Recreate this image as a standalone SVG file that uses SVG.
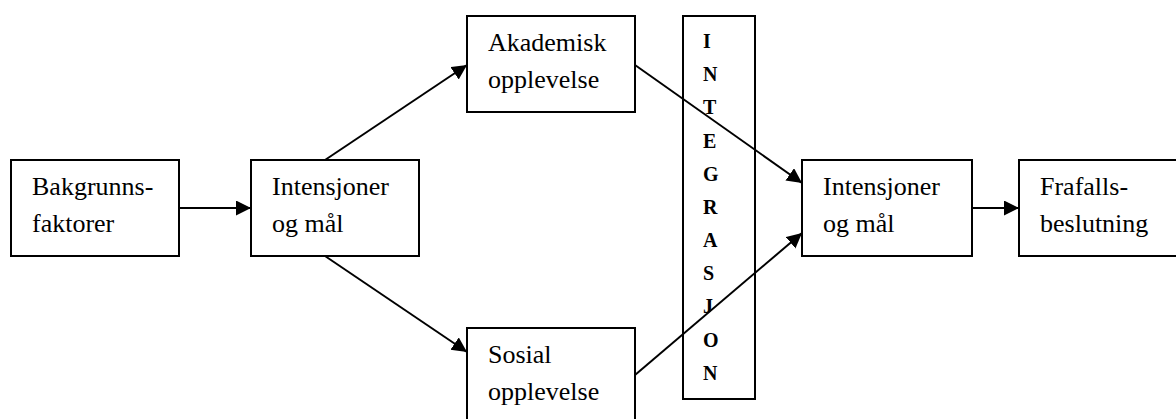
<svg xmlns="http://www.w3.org/2000/svg" width="1176" height="419" viewBox="0 0 1176 419">
<style>
.box{fill:#fff;stroke:#000;stroke-width:2}
.c{stroke:#000;stroke-width:2;fill:none;marker-end:url(#ah)}
</style>
<defs>
<marker id="ah" markerUnits="userSpaceOnUse" markerWidth="16" markerHeight="16" refX="15" refY="7.5" orient="auto">
<path d="M0,0 L15,7.5 L0,15 z" fill="#000"/>
</marker>
</defs>
<rect width="1176" height="419" fill="#fff"/>
<g font-family="Liberation Serif" font-size="26" fill="#000">
<g id="bakgrunn"><rect class="box" x="11" y="160" width="168" height="96"/><text x="32" y="195">Bakgrunns-</text><text x="32" y="232">faktorer</text></g>
<g id="intensjoner1"><rect class="box" x="251" y="160" width="168" height="96"/><text x="272" y="195">Intensjoner</text><text x="272" y="232">og mål</text></g>
<g id="akademisk"><rect class="box" x="467" y="16" width="168" height="96"/><text x="488" y="51">Akademisk</text><text x="488" y="88">opplevelse</text></g>
<g id="sosial"><rect class="box" x="467" y="328" width="168" height="96"/><text x="488" y="363">Sosial</text><text x="488" y="400">opplevelse</text></g>
<g id="integrasjon" font-size="20" font-weight="bold"><rect class="box" x="683" y="16" width="72" height="383"/>
<text x="703" y="48">I</text><text x="703" y="81">N</text><text x="703" y="114">T</text><text x="703" y="148">E</text><text x="703" y="181">G</text><text x="703" y="214">R</text><text x="703" y="247">A</text><text x="703" y="280">S</text><text x="703" y="313">J</text><text x="703" y="347">O</text><text x="703" y="380">N</text></g>
<g id="intensjoner2"><rect class="box" x="802" y="160" width="170" height="96"/><text x="823" y="195">Intensjoner</text><text x="823" y="232">og mål</text></g>
<g id="frafall"><rect class="box" x="1019" y="160" width="168" height="96"/><text x="1040" y="195">Frafalls-</text><text x="1040" y="232">beslutning</text></g>
</g>
<g id="connectors">
<line class="c" x1="179" y1="208" x2="251" y2="208"/>
<line class="c" x1="325" y1="160" x2="467" y2="65"/>
<line class="c" x1="325" y1="256" x2="467" y2="352"/>
<line class="c" x1="635" y1="65" x2="802" y2="183"/>
<line class="c" x1="635" y1="375" x2="802" y2="233"/>
<line class="c" x1="972" y1="208" x2="1019" y2="208"/>
</g>
</svg>
